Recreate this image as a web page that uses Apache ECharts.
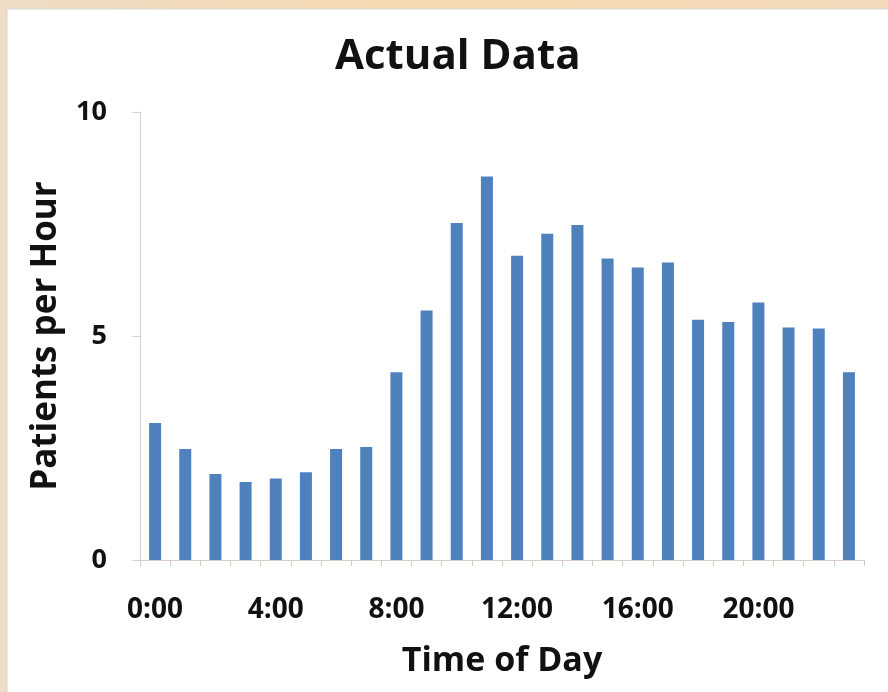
<!DOCTYPE html>
<html>
<head>
<meta charset="utf-8">
<script src="https://cdn.jsdelivr.net/npm/echarts@6/dist/echarts.min.js"></script>
<style>
html,body{margin:0;padding:0;background:#EFD8BA;}
#c{width:888px;height:692px;}
</style>
</head>
<body>
<div id="c"></div>
<script>
const hours = ['0:00','1:00','2:00','3:00','4:00','5:00','6:00','7:00','8:00','9:00','10:00','11:00',
  '12:00','13:00','14:00','15:00','16:00','17:00','18:00','19:00','20:00','21:00','22:00','23:00'];
const patients = [3.06, 2.48, 1.92, 1.74, 1.82, 1.96, 2.48, 2.52, 4.19, 5.57, 7.52, 8.56,
  6.79, 7.28, 7.48, 6.73, 6.53, 6.64, 5.36, 5.31, 5.75, 5.19, 5.17, 4.19];
const yTicks = [0, 5, 10];

const chart = echarts.init(document.getElementById('c'), null, {renderer: 'canvas'});
const font = '"Open Sans", sans-serif';
chart.setOption({
  backgroundColor: {
    type: 'linear', x: 0, y: 0, x2: 1, y2: 0,
    colorStops: [{offset: 0, color: '#EEDCC6'}, {offset: 0.5, color: '#F6D9AE'}, {offset: 1, color: '#F1D9BA'}]
  },
  animation: false,
  graphic: [{
    type: 'rect', z: -1,
    shape: {x: 7, y: 9, width: 890, height: 700},
    style: {fill: '#ffffff', stroke: '#d6d6d6', lineWidth: 1}
  }],
  title: {
    text: 'Actual Data', left: 330, top: 31,
    textStyle: {fontFamily: font, fontWeight: 'bold', fontSize: 42, color: '#111'}
  },
  grid: {left: 140, right: 24, top: 112, bottom: 132, containLabel: false},
  xAxis: {
    type: 'category', data: hours,
    name: 'Time of Day', nameLocation: 'middle', nameGap: 84,
    nameTextStyle: {fontFamily: font, fontWeight: 'bold', fontSize: 34, color: '#111'},
    axisLine: {lineStyle: {color: '#D9CFC8', width: 1}},
    axisTick: {show: true, alignWithLabel: false, interval: 0, length: 6, lineStyle: {color: '#D9C8BC'}},
    axisLabel: {interval: 3, margin: 36, fontFamily: font, fontWeight: 'bold', fontSize: 28, color: '#111'}
  },
  yAxis: {
    type: 'value', min: 0, max: 10, interval: 5,
    name: 'Patients per Hour', nameLocation: 'middle', nameGap: 76,
    nameTextStyle: {fontFamily: font, fontWeight: 'bold', fontSize: 35, color: '#111'},
    axisLine: {show: true, lineStyle: {color: '#D9D0CA', width: 1}},
    axisTick: {show: true, length: 8, lineStyle: {color: '#D9D0CA'}},
    splitLine: {show: false},
    axisLabel: {margin: 33, fontFamily: font, fontWeight: 'bold', fontSize: 27, color: '#111',
      formatter: function (v) { return yTicks.indexOf(v) >= 0 ? String(v) : ''; }}
  },
  series: [{
    type: 'bar', data: patients, barWidth: 12,
    itemStyle: {color: '#4F81BD'}
  }]
});
</script>
</body>
</html>
